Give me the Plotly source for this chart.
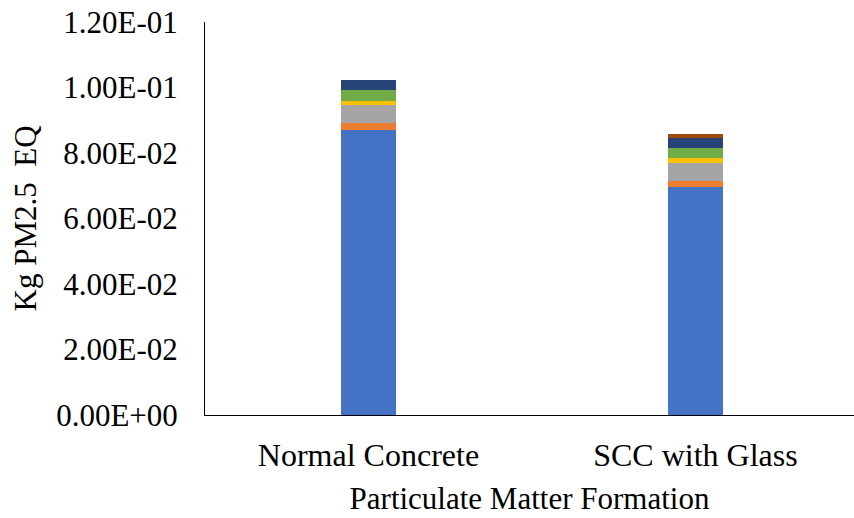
import plotly.graph_objects as go

categories = ["Normal Concrete", "SCC with Glass"]
series_names = ["Component 1", "Component 2", "Component 3", "Component 4",
                "Component 5", "Component 6", "Component 7"]
series_values = [
    [0.0871, 0.0697],
    [0.00195, 0.00174],
    [0.0056, 0.0056],
    [0.0012, 0.00134],
    [0.0034, 0.0032],
    [0.0031, 0.0031],
    [0.0, 0.0011],
]
colors = ["#4472C4", "#ED7D31", "#A5A5A5", "#FFC000", "#70AD47", "#264478", "#9E480E"]
y_ticks = [0, 0.02, 0.04, 0.06, 0.08, 0.10, 0.12]
y_tick_labels = ["0.00E+00", "2.00E-02", "4.00E-02", "6.00E-02", "8.00E-02", "1.00E-01", "1.20E-01"]

font_family = "Liberation Serif, Times New Roman, serif"

fig = go.Figure()
for name, vals, col in zip(series_names, series_values, colors):
    fig.add_trace(go.Bar(x=categories, y=vals, name=name, marker_color=col,
                         marker_line_width=0, width=0.168))

fig.update_layout(
    barmode="stack",
    width=854, height=518,
    margin=dict(l=205, r=0, t=22, b=103),
    paper_bgcolor="white", plot_bgcolor="white",
    showlegend=False,
    font=dict(family=font_family, size=31, color="black"),
    bargap=0,
)
fig.update_xaxes(
    range=[-0.5, 1.485],
    showline=True, linecolor="black", linewidth=1,
    ticks="", showgrid=False,
    tickfont=dict(size=32),
    ticklabelstandoff=12,
    title=dict(text="Particulate Matter Formation", font=dict(size=31), standoff=14),
)
fig.update_yaxes(
    range=[0, 0.12],
    tickvals=y_ticks, ticktext=y_tick_labels,
    showline=True, linecolor="black", linewidth=1,
    ticks="", showgrid=False, zeroline=False,
    tickfont=dict(size=31),
    ticklabelstandoff=20,
    title=dict(text="Kg PM2.5  EQ", font=dict(size=31), standoff=10),
)
fig.write_html("out.html")
